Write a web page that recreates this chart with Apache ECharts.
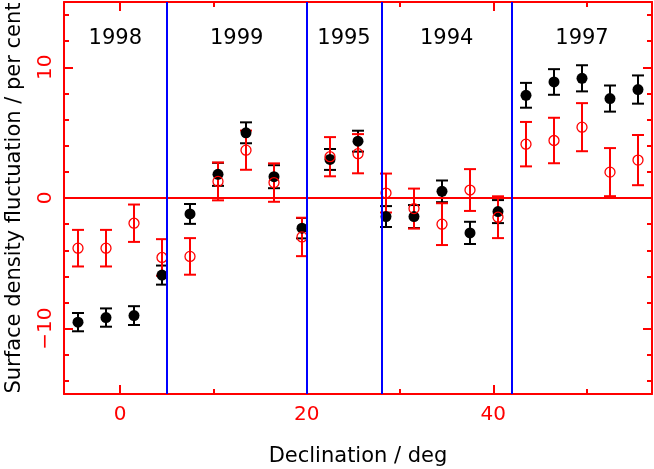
<!DOCTYPE html>
<html>
<head>
<meta charset="utf-8">
<script src="https://cdn.jsdelivr.net/npm/echarts@6/dist/echarts.min.js"></script>
<style>html,body{margin:0;padding:0;background:#fff;}#c{width:654px;height:469px;}</style>
</head>
<body>
<div id="c"></div>
<script>
// ---- data ----
const declination = [-4.5,-1.5,1.5,4.5,7.5,10.5,13.5,16.5,19.5,22.5,25.5,28.5,31.5,34.5,37.5,40.5,43.5,46.5,49.5,52.5,55.5];
const blackValues = [-9.5,-9.15,-9.0,-5.9,-1.22,1.81,4.99,1.63,-2.31,2.95,4.35,-1.42,-1.42,0.51,-2.67,-1.04,7.86,8.88,9.16,7.61,8.3];
const blackErrors = [0.7,0.7,0.72,0.73,0.76,0.88,0.8,0.88,0.78,0.8,0.8,0.8,0.88,0.83,0.85,0.88,0.95,0.98,1.0,1.0,1.08];
const redValues   = [-3.84,-3.84,-1.93,-4.55,-4.47,1.27,3.66,1.18,-2.98,3.16,3.39,0.38,-0.81,-2.0,0.61,-1.47,4.12,4.4,5.42,1.98,2.9];
const redErrors   = [1.4,1.4,1.43,1.4,1.4,1.45,1.5,1.47,1.47,1.5,1.5,1.49,1.53,1.6,1.6,1.6,1.7,1.74,1.84,1.84,1.92];
const years = ['1998','1999','1995','1994','1997'];
const yearBoundaries = [5,20,28,42];
const xMajorTicks = [0,20,40];
const xMinorTicks = [10,30,50];
const yMajorTicks = [-10,0,10];
const yMinorTicks = [-14,-12,-8,-6,-4,-2,2,4,6,8,12,14];
const xTitle = 'Declination / deg';
const yTitle = 'Surface density fluctuation / per cent';

// ---- layout / style ----
const xMin = -6, xMax = 57, yMin = -15, yMax = 15;
const yearLabelY = 12.2;
const RED = '#ff0000', BLUE = '#0000ff', BLACK = '#000000';
const FONT = 'DejaVu Sans';

function valueAxis(isX, pos, showLine, ticks, tickLen, labels, extra) {
  return Object.assign({
    type: 'value',
    min: isX ? xMin : yMin,
    max: isX ? xMax : yMax,
    position: pos,
    axisLine: { show: showLine, onZero: false, lineStyle: { color: RED, width: 2 } },
    axisTick: { show: true, inside: true, length: tickLen, customValues: ticks, lineStyle: { color: RED, width: 2 } },
    axisLabel: labels ? labels : { show: false },
    splitLine: { show: false },
    axisPointer: { show: false }
  }, extra || {});
}

const xAxes = [
  valueAxis(true, 'bottom', true, xMajorTicks, 9,
    { show: true, customValues: xMajorTicks, color: RED, fontSize: 20, fontFamily: FONT, margin: 11 },
    { name: xTitle, nameLocation: 'middle', nameGap: 52, nameTextStyle: { color: BLACK, fontSize: 21, fontFamily: FONT } }),
  valueAxis(true, 'bottom', false, xMinorTicks, 5, null),
  valueAxis(true, 'top', true, xMajorTicks, 9, null),
  valueAxis(true, 'top', false, xMinorTicks, 5, null)
];
const yAxes = [
  valueAxis(false, 'left', true, yMajorTicks, 9,
    { show: true, customValues: yMajorTicks, color: RED, fontSize: 20, fontFamily: FONT, margin: 8, rotate: 90,
      formatter: v => v < 0 ? '\u2212' + Math.abs(v) : String(v) },
    { name: yTitle, nameLocation: 'middle', nameGap: 39, nameTextStyle: { color: BLACK, fontSize: 21, fontFamily: FONT } }),
  valueAxis(false, 'left', false, yMinorTicks, 5, null),
  valueAxis(false, 'right', true, yMajorTicks, 9, null),
  valueAxis(false, 'right', false, yMinorTicks, 5, null)
];

function errorBarSeries(values, errors, color) {
  return {
    type: 'custom',
    xAxisIndex: 0, yAxisIndex: 0,
    silent: true,
    encode: { x: 0, y: [1, 2] },
    data: declination.map((x, i) => [x, values[i] - errors[i], values[i] + errors[i]]),
    renderItem: function (params, api) {
      const x = api.value(0);
      const lo = api.coord([x, api.value(1)]);
      const hi = api.coord([x, api.value(2)]);
      const w = 6;
      const st = { stroke: color, lineWidth: 2, fill: null };
      return {
        type: 'group',
        children: [
          { type: 'line', shape: { x1: lo[0], y1: lo[1], x2: hi[0], y2: hi[1] }, style: st },
          { type: 'line', shape: { x1: lo[0] - w, y1: lo[1], x2: lo[0] + w, y2: lo[1] }, style: st },
          { type: 'line', shape: { x1: hi[0] - w, y1: hi[1], x2: hi[0] + w, y2: hi[1] }, style: st }
        ]
      };
    }
  };
}

const blockEdges = [xMin].concat(yearBoundaries, [xMax]);

const option = {
  animation: false,
  backgroundColor: '#ffffff',
  grid: { left: 64, right: 2, top: 2, bottom: 75, containLabel: false, outerBoundsMode: 'none' },
  xAxis: xAxes,
  yAxis: yAxes,
  series: [
    {
      type: 'line', xAxisIndex: 0, yAxisIndex: 0, data: [], silent: true,
      markLine: {
        silent: true, symbol: 'none', label: { show: false },
        data: [{ yAxis: 0, lineStyle: { color: RED, width: 2, type: 'solid', opacity: 1 } }]
          .concat(yearBoundaries.map(b => ({ xAxis: b, lineStyle: { color: BLUE, width: 2, type: 'solid', opacity: 1 } })))
      }
    },
    errorBarSeries(blackValues, blackErrors, BLACK),
    {
      type: 'scatter', xAxisIndex: 0, yAxisIndex: 0, silent: true,
      symbol: 'circle', symbolSize: 11,
      itemStyle: { color: BLACK, opacity: 1 },
      data: declination.map((x, i) => [x, blackValues[i]])
    },
    errorBarSeries(redValues, redErrors, RED),
    {
      type: 'scatter', xAxisIndex: 0, yAxisIndex: 0, silent: true,
      symbol: 'circle', symbolSize: 10,
      itemStyle: { color: 'rgba(0,0,0,0)', borderColor: RED, borderWidth: 1.3, opacity: 1 },
      data: declination.map((x, i) => [x, redValues[i]])
    },
    {
      type: 'scatter', xAxisIndex: 0, yAxisIndex: 0, silent: true,
      symbolSize: 0,
      itemStyle: { opacity: 1 },
      label: { show: true, position: 'inside', formatter: '{b}', color: BLACK, fontSize: 21, fontFamily: FONT, opacity: 1 },
      data: years.map((y, i) => ({ name: y, value: [(blockEdges[i] + blockEdges[i + 1]) / 2, yearLabelY] }))
    }
  ]
};

const chart = echarts.init(document.getElementById('c'), null, { renderer: 'canvas' });
chart.setOption(option);
</script>
</body>
</html>
